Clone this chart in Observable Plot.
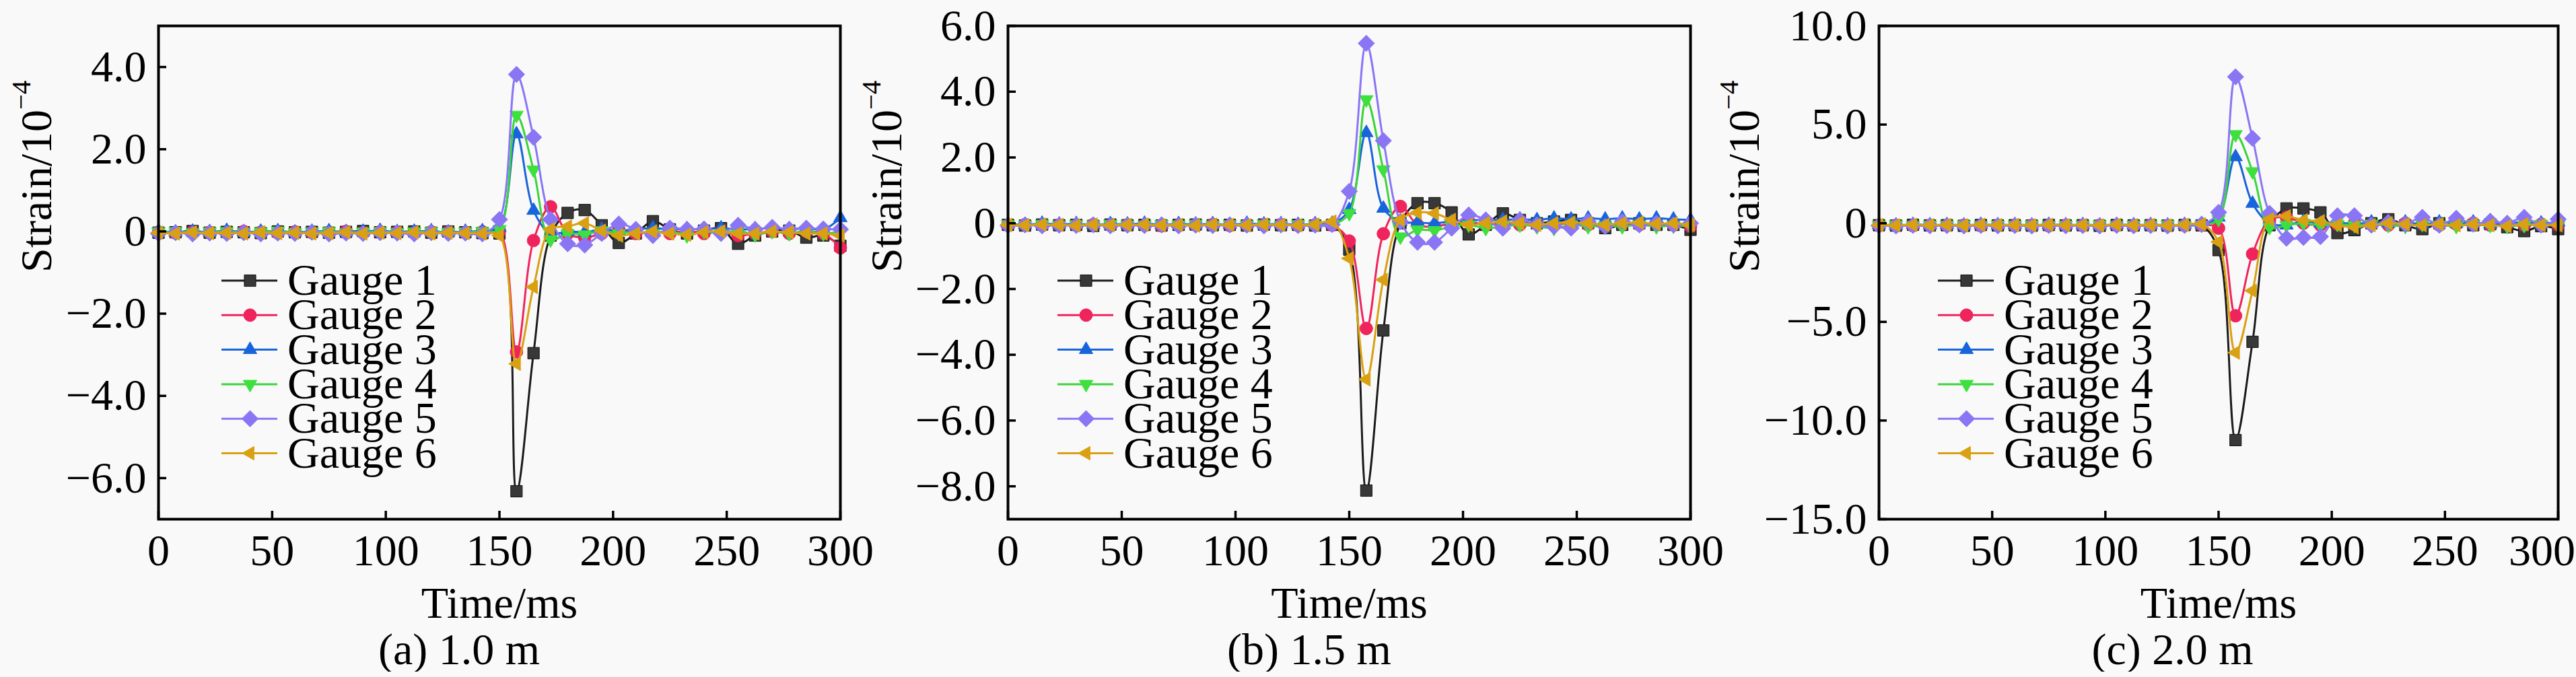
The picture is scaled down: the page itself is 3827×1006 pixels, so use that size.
<!DOCTYPE html>
<html>
<head>
<meta charset="utf-8">
<script src="https://cdn.jsdelivr.net/npm/d3@7"></script>
<script src="https://cdn.jsdelivr.net/npm/@observablehq/plot@0.6"></script>
<style>
  html, body { margin: 0; padding: 0; background: #f9f9f9; }
  #row { display: flex; flex-direction: row; width: 3827px; }
  .panel { display: flex; flex-direction: column; overflow: visible; }
  .panel svg { overflow: visible; }
  .cap { font-family: "Liberation Serif", "Times New Roman", serif; font-size: 66px; line-height: 66px; text-align: center; color: #000; }
</style>
</head>
<body>
<div id="row"></div>
<script>
// ---------- data ----------
const time = [0,7.5,15,22.5,30,37.5,45,52.5,60,67.5,75,82.5,90,97.5,105,112.5,120,127.5,135,142.5,
  150,157.5,165,172.5,180,187.5,195,202.5,210,217.5,225,232.5,240,247.5,255,262.5,270,277.5,285,292.5,300];
const gauges = ["Gauge 1","Gauge 2","Gauge 3","Gauge 4","Gauge 5","Gauge 6"];
const xTicks = [0,50,100,150,200,250,300];
const captions = ["(a) 1.0 m","(b) 1.5 m","(c) 2.0 m"];
const yTicksA = [-6,-4,-2,0,2,4];
const yTicksB = [-8,-6,-4,-2,0,2,4,6];
const yTicksC = [-15,-10,-5,0,5,10];
const yDomainA = [-7,5];
const yDomainB = [-9,6];
const yDomainC = [-15,10];

// (a) 1.0 m
const a1 = [-0.03,-0.02,0.01,-0.03,-0.01,-0.02,-0.04,0.00,-0.02,-0.01,-0.03,-0.01,0.01,-0.02,-0.01,0.00,-0.03,0.00,-0.02,-0.04,
  -0.05,-6.32,-2.96,-0.10,0.45,0.52,0.15,-0.28,-0.05,0.25,0.05,-0.05,0.02,0.08,-0.30,-0.10,0.00,0.02,-0.15,-0.10,-0.35];
const a2 = [-0.02,-0.04,-0.01,-0.02,-0.03,0.00,-0.02,-0.04,-0.01,-0.03,-0.02,0.00,-0.03,-0.01,-0.02,-0.04,-0.01,-0.02,-0.03,-0.01,
  0.00,-2.93,-0.22,0.60,-0.05,-0.15,-0.05,0.05,-0.05,0.00,-0.05,0.02,-0.05,0.00,-0.10,-0.05,0.00,-0.05,0.00,-0.05,-0.40];
const a3 = [0.01,-0.02,0.00,-0.01,0.02,-0.01,0.00,0.01,-0.02,0.00,0.01,-0.01,0.00,0.02,-0.01,0.00,0.01,-0.02,0.00,0.01,
  0.10,2.37,0.51,-0.05,0.00,-0.02,0.05,0.02,0.05,0.08,0.05,0.06,0.05,0.08,0.05,0.06,0.08,0.06,0.08,0.05,0.33];
const a4 = [-0.01,0.00,-0.03,-0.01,0.00,-0.02,-0.01,0.01,-0.02,-0.01,0.00,-0.03,-0.01,0.00,-0.02,-0.01,0.00,-0.02,-0.01,0.00,
  0.05,2.83,1.50,-0.20,-0.05,-0.08,0.02,-0.05,0.00,-0.05,0.02,-0.10,0.00,-0.05,0.02,-0.08,0.00,-0.05,0.02,-0.05,0.00];
const a5 = [-0.05,-0.03,-0.06,-0.04,-0.05,-0.03,-0.06,-0.04,-0.05,-0.02,-0.06,-0.04,-0.05,-0.03,-0.04,-0.06,-0.03,-0.05,-0.04,-0.06,
  0.29,3.82,2.29,0.29,-0.30,-0.33,-0.05,0.18,0.05,-0.10,0.08,0.05,0.06,-0.05,0.15,0.05,0.10,0.05,0.08,0.06,0.05];
const a6 = [-0.03,-0.05,-0.02,-0.04,-0.03,-0.05,-0.02,-0.04,-0.03,-0.05,-0.04,-0.02,-0.05,-0.03,-0.04,-0.02,-0.05,-0.03,-0.04,-0.05,
  -0.10,-3.22,-1.35,0.05,0.12,0.20,0.02,-0.10,-0.05,0.00,-0.05,-0.08,-0.02,0.00,-0.05,-0.05,0.00,-0.02,-0.05,-0.05,-0.10];

// (b) 1.5 m
const b1 = [-0.05,-0.07,-0.04,-0.06,-0.05,-0.08,-0.04,-0.06,-0.05,-0.07,-0.05,-0.04,-0.06,-0.05,-0.07,-0.04,-0.06,-0.05,-0.07,-0.05,
  -0.80,-8.13,-3.26,0.00,0.61,0.61,0.33,-0.34,-0.05,0.30,0.10,0.00,0.05,0.10,0.00,-0.15,-0.05,0.00,-0.05,-0.05,-0.20];
const b2 = [-0.06,-0.04,-0.07,-0.05,-0.06,-0.04,-0.07,-0.05,-0.06,-0.08,-0.05,-0.06,-0.04,-0.07,-0.05,-0.06,-0.04,-0.07,-0.05,-0.06,
  -0.54,-3.20,-0.32,0.51,-0.05,-0.10,0.00,0.05,-0.05,0.00,-0.05,0.00,-0.05,0.02,-0.05,-0.08,-0.02,-0.05,0.00,-0.05,-0.10];
const b3 = [-0.02,-0.04,-0.01,-0.03,-0.02,-0.04,-0.02,-0.03,-0.01,-0.04,-0.02,-0.03,-0.02,-0.04,-0.01,-0.03,-0.02,-0.04,-0.02,-0.01,
  0.41,2.75,0.45,0.05,0.02,0.00,0.05,0.08,0.10,0.10,0.12,0.10,0.15,0.12,0.15,0.12,0.15,0.12,0.15,0.12,0.10];
const b4 = [-0.04,-0.05,-0.03,-0.06,-0.04,-0.05,-0.03,-0.05,-0.06,-0.04,-0.05,-0.03,-0.06,-0.04,-0.05,-0.03,-0.06,-0.04,-0.05,-0.03,
  0.30,3.76,1.63,-0.41,-0.20,-0.22,-0.10,-0.05,-0.15,-0.10,-0.05,-0.10,-0.15,-0.05,-0.10,-0.08,-0.10,-0.05,-0.10,-0.08,-0.10];
const b5 = [-0.07,-0.05,-0.08,-0.06,-0.07,-0.05,-0.08,-0.06,-0.07,-0.05,-0.08,-0.06,-0.07,-0.05,-0.06,-0.08,-0.05,-0.07,-0.06,-0.04,
  0.97,5.47,2.51,0.05,-0.58,-0.58,-0.15,0.25,0.10,-0.15,0.10,-0.05,-0.10,-0.15,0.05,-0.10,0.05,-0.05,0.00,-0.05,0.00];
const b6 = [-0.05,-0.06,-0.04,-0.05,-0.07,-0.04,-0.06,-0.05,-0.04,-0.06,-0.05,-0.07,-0.04,-0.05,-0.06,-0.04,-0.05,-0.06,-0.04,0.05,
  -1.07,-4.75,-1.72,0.10,0.32,0.30,0.10,-0.05,0.00,0.05,0.00,-0.05,0.00,0.02,0.00,-0.05,0.00,0.02,-0.02,0.00,-0.05];

// (c) 2.0 m
const c1 = [-0.10,-0.12,-0.08,-0.11,-0.10,-0.13,-0.09,-0.11,-0.10,-0.12,-0.09,-0.11,-0.10,-0.13,-0.09,-0.11,-0.10,-0.12,-0.09,-0.11,
  -1.36,-10.99,-6.01,-0.10,0.75,0.75,0.55,-0.50,-0.35,0.00,0.20,-0.10,-0.30,0.00,0.05,-0.10,-0.05,-0.20,-0.40,-0.15,-0.30];
const c2 = [-0.12,-0.10,-0.13,-0.11,-0.12,-0.10,-0.13,-0.11,-0.12,-0.10,-0.13,-0.11,-0.12,-0.10,-0.11,-0.13,-0.10,-0.12,-0.11,-0.10,
  -0.25,-4.69,-1.56,0.15,0.30,0.00,-0.10,-0.05,0.00,-0.05,-0.10,0.00,-0.05,-0.10,-0.05,0.00,-0.10,-0.05,-0.10,-0.05,-0.10];
const c3 = [-0.08,-0.10,-0.07,-0.09,-0.08,-0.10,-0.07,-0.09,-0.08,-0.10,-0.07,-0.09,-0.08,-0.10,-0.07,-0.09,-0.08,-0.10,-0.07,-0.05,
  0.30,3.36,1.00,0.00,-0.10,0.10,0.00,0.05,-0.05,0.05,0.00,0.05,-0.05,0.05,0.00,0.05,-0.05,0.00,0.05,0.00,0.05];
const c4 = [-0.10,-0.08,-0.11,-0.09,-0.10,-0.08,-0.11,-0.09,-0.10,-0.08,-0.11,-0.09,-0.10,-0.08,-0.11,-0.09,-0.10,-0.08,-0.11,-0.09,
  0.20,4.50,2.62,-0.20,-0.10,0.00,-0.10,-0.05,-0.10,-0.05,-0.10,-0.15,-0.05,-0.10,-0.15,-0.05,-0.10,-0.15,-0.10,-0.05,-0.10];
const c5 = [-0.12,-0.14,-0.11,-0.13,-0.12,-0.14,-0.11,-0.13,-0.12,-0.14,-0.11,-0.13,-0.12,-0.14,-0.11,-0.13,-0.12,-0.14,-0.11,-0.05,
  0.55,7.42,4.30,0.50,-0.76,-0.72,-0.68,0.38,0.38,-0.10,0.05,-0.05,0.30,-0.10,0.25,-0.05,0.10,0.00,0.30,-0.10,0.20];
const c6 = [-0.09,-0.11,-0.08,-0.10,-0.09,-0.11,-0.08,-0.10,-0.09,-0.11,-0.08,-0.10,-0.09,-0.11,-0.08,-0.10,-0.09,-0.11,-0.08,-0.05,
  -0.95,-6.56,-3.42,0.20,0.35,0.15,0.10,-0.10,-0.20,-0.10,0.00,-0.05,-0.10,-0.05,-0.10,-0.05,-0.10,-0.15,-0.05,-0.10,-0.10];

// ---------- styles ----------
const lineColors = ["#1c1c1c","#f0245c","#1864dc","#3cd43c","#8a76f5","#d9a012"];
const fillColors = ["#383838","#f0245c","#1864dc","#3ee03e","#8a76f5","#d9a012"];
const FONT = '"Liberation Serif", "Times New Roman", serif';

function poly(pts) {
  return {draw(ctx, size) {
    const h = Math.sqrt(size / Math.PI);
    ctx.moveTo(pts[0][0]*h, pts[0][1]*h);
    for (let i = 1; i < pts.length; ++i) ctx.lineTo(pts[i][0]*h, pts[i][1]*h);
    ctx.closePath();
  }};
}
const symSquare = poly([[-0.95,-0.95],[0.95,-0.95],[0.95,0.95],[-0.95,0.95]]);
const symCircle = {draw(ctx, size) { const h = Math.sqrt(size / Math.PI) * 1.05; ctx.moveTo(h, 0); ctx.arc(0, 0, h, 0, 2*Math.PI); }};
const symTriUp = poly([[0,-1.3],[1.12,0.65],[-1.12,0.65]]);
const symTriDown = poly([[0,1.3],[1.12,-0.65],[-1.12,-0.65]]);
const symDiamond = poly([[0,-1.35],[1.35,0],[0,1.35],[-1.35,0]]);
const symTriLeft = poly([[-1.3,0],[0.65,-1.12],[0.65,1.12]]);
const symbols = [symSquare, symCircle, symTriUp, symTriDown, symDiamond, symTriLeft];

const fmt = d => d === 0 ? "0" : d.toFixed(1).replace("-", "\u2212");

const panels = [
  {series:[a1,a2,a3,a4,a5,a6], yDomain:yDomainA, yTicks:yTicksA, width:1262, mr:14, ylabDx:-181, legX:94, capPad:102, lastDx:0},
  {series:[b1,b2,b3,b4,b5,b6], yDomain:yDomainB, yTicks:yTicksB, width:1294, mr:45, ylabDx:-180, legX:74, capPad:72, lastDx:0},
  {series:[c1,c2,c3,c4,c5,c6], yDomain:yDomainC, yTicks:yTicksC, width:1271, mr:27, ylabDx:-200, legX:88, capPad:72, lastDx:-24}
];

const H = 932, MT = 38, MB = 161, ML = 235, R = 9;
const row = document.getElementById("row");

panels.forEach((p, pi) => {
  const frameW = p.width - ML - p.mr;
  const frameH = H - MT - MB;
  const marks = [];
  p.series.forEach((vals, gi) => {
    const rows = time.map((t, i) => ({t, v: vals[i], g: gauges[gi]}));
    marks.push(Plot.line(rows, {x: "t", y: "v", stroke: lineColors[gi], strokeWidth: 3, curve: "catmull-rom"}));
    marks.push(Plot.dot(rows, {x: "t", y: "v", r: R, symbol: symbols[gi], fill: fillColors[gi], stroke: gi === 0 ? "#111" : fillColors[gi], strokeWidth: 1}));
  });
  marks.push(Plot.tickX(xTicks, {x: d => d, insetTop: frameH - 12, stroke: "#000", strokeWidth: 3.5}));
  marks.push(Plot.tickY(p.yTicks, {y: d => d, insetRight: frameW - 12, stroke: "#000", strokeWidth: 3.5}));
  marks.push(Plot.axisX({ticks: xTicks.slice(0, -1), tickSize: 0, tickPadding: 22, tickFormat: d => String(d), label: null, fontSize: 66, fill: "#000"}));
  marks.push(Plot.axisX({ticks: xTicks.slice(-1), tickSize: 0, tickPadding: 22, tickFormat: d => String(d), label: null, fontSize: 66, fill: "#000", dx: p.lastDx}));
  marks.push(Plot.axisY({ticks: p.yTicks, tickSize: 0, tickPadding: 18, tickFormat: fmt, label: null, fontSize: 66, fill: "#000"}));
  marks.push(Plot.frame({stroke: "#000", strokeWidth: 4}));
  marks.push(Plot.text(["Time/ms"], {text: d => d, frameAnchor: "bottom", dy: 146, lineAnchor: "bottom", fontSize: 66, fill: "#000"}));
  marks.push(Plot.text(["Strain/10\u22124"], {text: d => d, frameAnchor: "left", dx: p.ylabDx, rotate: -90, fontSize: 66, fill: "#000"}));

  const svg = Plot.plot({
    width: p.width, height: H,
    marginLeft: ML, marginRight: p.mr, marginTop: MT, marginBottom: MB,
    x: {domain: [0, 300]},
    y: {domain: p.yDomain},
    style: {fontFamily: FONT, fontSize: "66px", background: "transparent", color: "#000", overflow: "visible"},
    marks
  });

  // superscript for the y label
  d3.select(svg).selectAll("text").filter(function() { return this.textContent === "Strain/10\u22124"; })
    .each(function() {
      const t = d3.select(this);
      t.text(null);
      t.append("tspan").text("Strain/10");
      t.append("tspan").attr("font-size", "0.62em").attr("dy", "-0.75em").text("\u22124");
    });

  // in-plot legend
  const lg = d3.select(svg).append("g").attr("font-family", FONT).attr("font-size", 66).attr("text-anchor", "start");
  const x0 = ML + p.legX, y0 = 417, step = 51.3;
  gauges.forEach((g, gi) => {
    const y = y0 + gi * step;
    lg.append("line").attr("x1", x0).attr("x2", x0 + 83).attr("y1", y).attr("y2", y)
      .attr("stroke", lineColors[gi]).attr("stroke-width", 3);
    lg.append("path").attr("d", d3.symbol(symbols[gi], Math.PI * R * R)())
      .attr("transform", `translate(${x0 + 42.5},${y})`)
      .attr("fill", fillColors[gi]).attr("stroke", gi === 0 ? "#111" : fillColors[gi]).attr("stroke-width", 1);
    lg.append("text").attr("x", x0 + 98).attr("y", y).attr("dy", "0.32em").attr("fill", "#000").attr("text-anchor", "start").text(g);
  });

  const div = document.createElement("div");
  div.className = "panel";
  div.style.width = p.width + "px";
  div.appendChild(svg);
  const cap = document.createElement("div");
  cap.className = "cap";
  cap.style.paddingLeft = p.capPad + "px";
  cap.textContent = captions[pi];
  div.appendChild(cap);
  row.appendChild(div);
});
</script>
</body>
</html>
